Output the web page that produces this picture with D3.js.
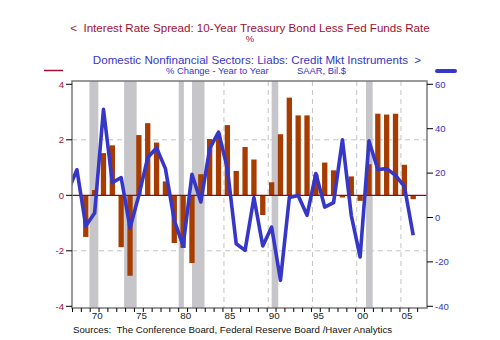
<!DOCTYPE html>
<html><head><meta charset="utf-8">
<script src="https://cdn.jsdelivr.net/npm/d3@7"></script>
<style>body{margin:0;background:#fff} text{font-family:Arial,"Liberation Sans",sans-serif}</style>
</head><body><svg id="c" width="500" height="340"></svg>
<script>
// ---- data ----
const years = [1968,1969,1970,1971,1972,1973,1974,1975,1976,1977,1978,1979,1980,1981,1982,1983,1984,1985,1986,1987,1988,1989,1990,1991,1992,1993,1994,1995,1996,1997,1998,1999,2000,2001,2002,2003,2004,2005,2006];
const spread = [0.0,-1.5,0.19,1.52,1.8,-1.87,-2.9,2.17,2.6,1.9,0.5,-1.72,-1.9,-2.44,0.76,2.03,2.23,2.53,0.88,1.74,1.29,-0.71,0.47,2.2,3.52,2.88,2.88,0.75,1.18,0.9,-0.08,0.68,-0.2,1.12,2.94,2.91,2.94,1.1,-0.14];
const creditYears = [1967,1968,1969,1970,1971,1972,1973,1974,1975,1976,1977,1978,1979,1980,1981,1982,1983,1984,1985,1986,1987,1988,1989,1990,1991,1992,1993,1994,1995,1996,1997,1998,1999,2000,2001,2002,2003,2004,2005,2006];
const creditGrowth = [12,21.5,-3.8,2.0,48.7,15.7,18,-4.7,10,27,31.3,22,-1.3,-12.8,19.5,7,31,38.5,22,-11.8,-14.8,9,-12.8,-4.3,-28.3,9,9.9,1,19.8,4.7,6.7,35,1,-17.8,34.5,21.6,22,19,14,-8];
const recessionStart = [1969.917,1973.833,1980.0,1981.5,1990.5,2001.167];
const recessionEnd   = [1970.917,1975.25,1980.583,1982.917,1991.25,2001.917];
const leftTicks = [-4,-2,0,2,4];
const rightTicks = [-40,-20,0,20,40,60];
const gridLeft = [-2,2];
const gridYears = [1970,1975,1980,1985,1990,1995,2000,2005];
const xLabelYears = [1970,1975,1980,1985,1990,1995,2000,2005];
const xLabels = ["70","75","80","85","90","95","00","05"];
const tickYears = [1968,1969,1970,1971,1972,1973,1974,1975,1976,1977,1978,1979,1980,1981,1982,1983,1984,1985,1986,1987,1988,1989,1990,1991,1992,1993,1994,1995,1996,1997,1998,1999,2000,2001,2002,2003,2004,2005,2006,2007];

// ---- layout ----
const L = 72, R = 427, T = 81, B = 308;
const RED = "#a01030", BLUE = "#3636c8", BAR = "#a63c00", BAND = "#c6c6ca";
const svg = d3.select("#c");
const x = d3.scaleLinear().domain([1968, 2008]).range([72.5, 426.5]);
const yL = d3.scaleLinear().domain([-4, 4]).range([306.3, 84.3]);
const yR = d3.scaleLinear().domain([-40, 60]).range([306.3, 84.3]);
const yw = x(1969) - x(1968);

svg.append("defs").append("clipPath").attr("id","clip")
  .append("rect").attr("x",L).attr("y",T).attr("width",R-L).attr("height",B-T);

const plot = svg.append("g").attr("clip-path","url(#clip)");
// gridlines
plot.selectAll(".gh").data(gridLeft).join("line")
  .attr("x1",L).attr("x2",R).attr("y1",d=>yL(d)).attr("y2",d=>yL(d))
  .attr("stroke","#c4c4c4").attr("stroke-dasharray","5,4").attr("stroke-width",1);
plot.selectAll(".gv").data(gridYears).join("line")
  .attr("x1",d=>x(d)+1).attr("x2",d=>x(d)+1).attr("y1",T).attr("y2",B)
  .attr("stroke","#c4c4c4").attr("stroke-dasharray","5,4").attr("stroke-width",1);
// recession bands
plot.selectAll(".band").data(recessionStart).join("rect")
  .attr("x",d=>x(d)).attr("width",(d,i)=>x(recessionEnd[i])-x(d))
  .attr("y",T).attr("height",B-T).attr("fill",BAND);
// bars
plot.selectAll(".bar").data(spread).join("rect")
  .attr("x",(d,i)=>x(years[i]+0.5)-yw*0.3).attr("width",yw*0.6)
  .attr("y",d=>Math.min(yL(d),yL(0))).attr("height",d=>Math.abs(yL(d)-yL(0)))
  .attr("fill",BAR);
// zero line
plot.append("line").attr("x1",L).attr("x2",R).attr("y1",yL(0)).attr("y2",yL(0))
  .attr("stroke","#a00020").attr("stroke-width",1.2);
// credit line
const line = d3.line().x((d,i)=>x(creditYears[i]+0.5)).y(d=>yR(d));
plot.append("path").attr("d",line(creditGrowth)).attr("fill","none")
  .attr("stroke",BLUE).attr("stroke-width",3.6).attr("stroke-linejoin","round");

// frame
svg.append("rect").attr("x",L).attr("y",T).attr("width",R-L).attr("height",B-T)
  .attr("fill","none").attr("stroke","#7a7a7a").attr("stroke-width",1.5);

// left axis
const la = svg.append("g");
la.selectAll("line").data(leftTicks).join("line")
  .attr("x1",L-6).attr("x2",L).attr("y1",d=>yL(d)).attr("y2",d=>yL(d)).attr("stroke","#000");
la.selectAll("text").data(leftTicks).join("text")
  .attr("x",L-8).attr("y",d=>yL(d)+3.3).attr("text-anchor","end")
  .attr("font-size",9.5).attr("fill",RED).text(d=>d);
// right axis
const ra = svg.append("g");
ra.selectAll("line").data(rightTicks).join("line")
  .attr("x1",R).attr("x2",R+6).attr("y1",d=>yR(d)).attr("y2",d=>yR(d)).attr("stroke","#000");
ra.selectAll("text").data(rightTicks).join("text")
  .attr("x",R+8).attr("y",d=>yR(d)+3.3).attr("text-anchor","start")
  .attr("font-size",9.5).attr("fill",BLUE).text(d=>d);
// bottom axis
const ba = svg.append("g");
ba.selectAll("line").data(tickYears).join("line")
  .attr("x1",d=>x(d)).attr("x2",d=>x(d)).attr("y1",B).attr("y2",B+4).attr("stroke","#000");
ba.selectAll("text").data(xLabelYears).join("text")
  .attr("x",d=>x(d)+1.5).attr("y",B+11).attr("text-anchor","start")
  .attr("font-size",9.8).attr("fill","#222").text((d,i)=>xLabels[i]);

// titles
svg.append("text").attr("x",250).attr("y",32).attr("text-anchor","middle")
  .attr("font-size",11.6).attr("fill",RED).style("white-space","pre")
  .text("<  Interest Rate Spread: 10-Year Treasury Bond Less Fed Funds Rate");
svg.append("text").attr("x",250).attr("y",42).attr("text-anchor","middle")
  .attr("font-size",9.5).attr("fill",RED).text("%");
svg.append("text").attr("x",257).attr("y",64).attr("text-anchor","middle")
  .attr("font-size",11.6).attr("fill",BLUE).style("white-space","pre")
  .text("Domestic Nonfinancial Sectors: Liabs: Credit Mkt Instruments  >");
svg.append("text").attr("x",166).attr("y",73.5).attr("font-size",9.4).attr("fill",BLUE)
  .text("% Change - Year to Year");
svg.append("text").attr("x",346).attr("y",73.5).attr("text-anchor","end").attr("font-size",9.4).attr("fill",BLUE)
  .text("SAAR, Bil.$");
// legend lines
svg.append("line").attr("x1",44).attr("x2",63).attr("y1",70.5).attr("y2",70.5)
  .attr("stroke",RED).attr("stroke-width",1.5);
svg.append("line").attr("x1",437).attr("x2",455).attr("y1",71).attr("y2",71)
  .attr("stroke",BLUE).attr("stroke-width",4).attr("stroke-linecap","round");
// source
svg.append("text").attr("x",73).attr("y",333).attr("font-size",9.7).attr("fill","#111").style("white-space","pre")
  .text("Sources:  The Conference Board, Federal Reserve Board /Haver Analytics");
</script></body></html>
